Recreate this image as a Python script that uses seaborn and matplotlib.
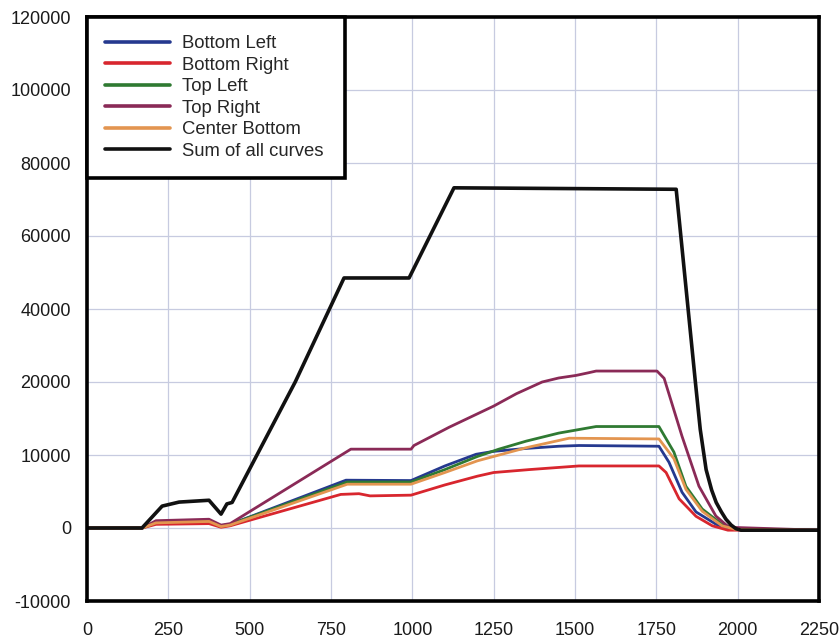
import numpy as np
import pandas as pd
import matplotlib
matplotlib.use("Agg")
import matplotlib.pyplot as plt
import seaborn as sns

# --- data (x, value) ---
x_bl = [0, 170, 212, 375, 412, 440, 796, 996, 1100, 1196, 1250, 1350, 1450, 1512, 1758, 1789, 1829, 1872, 1934, 1980, 2250]
y_bl = [0, 0, 800, 1000, 300, 500, 6550, 6500, 8500, 10100, 10500, 10900, 11200, 11300, 11200, 9000, 4900, 2200, 500, -200, -300]

x_br = [0, 170, 212, 375, 412, 440, 780, 836, 870, 996, 1100, 1200, 1250, 1359, 1512, 1758, 1780, 1820, 1872, 1922, 1970, 2250]
y_br = [0, 0, 500, 600, 100, 300, 4600, 4700, 4400, 4500, 5900, 7100, 7600, 8000, 8500, 8500, 7600, 4000, 1600, 300, -300, -300]

x_tl = [0, 170, 212, 375, 412, 440, 800, 996, 1100, 1200, 1266, 1350, 1450, 1565, 1758, 1804, 1841, 1891, 1952, 1995, 2250]
y_tl = [0, 0, 800, 1000, 300, 500, 6300, 6300, 8000, 9800, 10800, 11900, 13000, 13900, 13900, 10400, 5700, 2600, 500, -100, -300]

x_tr = [0, 170, 212, 375, 412, 440, 811, 996, 1005, 1113, 1250, 1320, 1399, 1450, 1503, 1540, 1565, 1752, 1774, 1829, 1881, 1933, 1973, 2250]
y_tr = [0, 0, 1000, 1200, 400, 600, 10800, 10800, 11300, 13800, 16700, 18400, 20000, 21100, 21800, 22500, 23000, 23000, 21000, 12560, 5730, 1640, 100, -300]

x_cb = [0, 170, 212, 375, 412, 440, 800, 996, 1100, 1200, 1250, 1350, 1482, 1758, 1804, 1841, 1891, 1952, 1995, 2250]
y_cb = [0, 0, 700, 900, 200, 400, 6000, 6000, 7600, 9200, 9800, 11000, 12300, 12200, 9500, 5300, 2300, 300, -200, -300]

x_sum = [0, 169, 231, 283, 375, 412, 430, 446, 640, 790, 990, 1128, 1811, 1870, 1885, 1903, 1920, 1934, 1950, 1964, 1980, 1995, 2010, 2250]
y_sum = [0, 0, 3000, 3550, 3800, 1900, 3300, 3500, 20000, 48500, 48500, 73200, 72800, 20000, 13500, 8000, 5200, 3500, 2200, 1200, 400, -100, -300, -300]

labels = ["Bottom Left", "Bottom Right", "Top Left", "Top Right", "Center Bottom", "Sum of all curves"]
colors = ["#25398f", "#d8262e", "#2f7a32", "#8a2a57", "#e39550", "#111111"]
y_ticks = [-10000, 0, 10000, 20000, 40000, 60000, 80000, 100000, 120000]
x_ticks = [0, 250, 500, 750, 1000, 1250, 1500, 1750, 2000, 2250]

series = [(x_bl, y_bl), (x_br, y_br), (x_tl, y_tl), (x_tr, y_tr), (x_cb, y_cb), (x_sum, y_sum)]

sns.set_style("whitegrid")
plt.rcParams["font.family"] = ["Liberation Sans", "DejaVu Sans"]


# axis is 10000 per grid step below 20000 and 20000 per step above
def fwd(v):
    v = np.asarray(v, dtype=float)
    return np.where(v <= 20000, v, 20000 + (v - 20000) / 2)


def inv(v):
    v = np.asarray(v, dtype=float)
    return np.where(v <= 20000, v, 20000 + (v - 20000) * 2)


fig = plt.figure(figsize=(8.39, 6.41), dpi=100)
ax = fig.add_axes([87 / 839, 40 / 641, 732 / 839, 584 / 641])
ax.set_yscale("function", functions=(fwd, inv))

for (xs, ys), lab, col in zip(series, labels, colors):
    lw = 2.6 if lab.startswith("Sum") else 2.0
    sns.lineplot(x=xs, y=ys, ax=ax, color=col, lw=lw, label=lab, sort=False, estimator=None)

ax.set_xlim(0, 2250)
ax.set_ylim(-10000, 120000)
ax.set_xticks(x_ticks)
ax.set_yticks(y_ticks)
ax.set_xticklabels([str(t) for t in x_ticks])
ax.set_yticklabels([str(t) for t in y_ticks])
ax.set_xlabel("")
ax.set_ylabel("")
ax.grid(True, color="#c7cbe0", lw=0.9)
ax.tick_params(length=0, labelsize=13, colors="#1a1a1a")
ax.tick_params(axis="y", pad=11.5)
ax.tick_params(axis="x", pad=15)
for s in ax.spines.values():
    s.set_visible(True)
    s.set_color("black")
    s.set_linewidth(2.6)

leg = ax.legend(loc="upper left", bbox_to_anchor=(0, 1, 258 / 732, 0), mode="expand",
                borderaxespad=0, fancybox=False, framealpha=1,
                edgecolor="black", fontsize=13.3, handlelength=3.5, handletextpad=0.65,
                labelspacing=0.24, borderpad=1.0)
leg.get_frame().set_linewidth(2.6)
for h in leg.get_lines():
    h.set_linewidth(2.6)

fig.savefig("out.png", dpi=100, facecolor="white")
